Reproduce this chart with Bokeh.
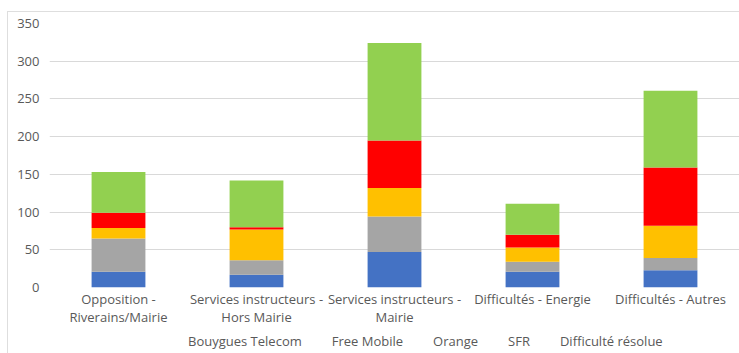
from bokeh.plotting import figure
from bokeh.layouts import column
from bokeh.models import ColumnDataSource, Legend, LegendItem, FixedTicker
from bokeh.embed import file_html
from bokeh.resources import INLINE

categories = ["Opposition -\nRiverains/Mairie", "Services instructeurs -\nHors Mairie",
              "Services instructeurs -\nMairie", "Difficultés - Energie", "Difficultés - Autres"]
series = ["Bouygues Telecom", "Free Mobile", "Orange", "SFR", "Difficulté résolue"]
bouygues = [21, 17, 47, 21, 23]
free = [44, 19, 47, 13, 16]
orange = [14, 41, 38, 19, 43]
sfr = [20, 3, 63, 17, 77]
resolue = [54, 62, 129, 41, 102]
colors = ["#4472C4", "#A5A5A5", "#FFC000", "#FF0000", "#92D050"]
y_ticks = [0, 50, 100, 150, 200, 250, 300, 350]

FONT = "Open Sans"
TXT = "#595959"

source = ColumnDataSource(data=dict(cat=categories, b=bouygues, f=free, o=orange, s=sfr, r=resolue))

p = figure(x_range=categories, y_range=(0, 350), width=732, height=318,
           output_backend="svg", toolbar_location=None,
           min_border_left=41, min_border_right=1, min_border_top=11, min_border_bottom=43)

renderers = p.vbar_stack(["b", "f", "o", "s", "r"], x="cat", width=0.39, color=colors,
                         source=source, line_color=None)

p.outline_line_color = None
p.xgrid.grid_line_color = None
p.ygrid.grid_line_color = "#d9d9d9"
p.ygrid.grid_line_width = 1
p.yaxis.ticker = FixedTicker(ticks=y_ticks)
for ax in (p.xaxis, p.yaxis):
    ax.axis_line_color = None
    ax.major_tick_line_color = None
    ax.minor_tick_line_color = None
    ax.major_tick_out = 0
    ax.major_label_text_font = FONT
    ax.major_label_text_font_size = "13px"
    ax.major_label_text_color = TXT
p.yaxis.major_label_standoff = 10
p.xaxis.major_label_standoff = 2
p.xaxis.major_label_text_line_height = 1.05
p.x_range.range_padding = 0

# Legend strip: a second figure holding only the legend
lp = figure(width=732, height=23, x_range=(0, 1), y_range=(0, 1),
            output_backend="svg", toolbar_location=None,
            x_axis_location=None, y_axis_location=None,
            min_border_left=0, min_border_right=0, min_border_top=0, min_border_bottom=0)
lp.outline_line_color = None
lp.xgrid.grid_line_color = None
lp.ygrid.grid_line_color = None
leg_renderers = [lp.vbar(x=[], top=[], width=0.1, color=c, line_color=None) for c in colors]
legend = Legend(items=[LegendItem(label=n, renderers=[r]) for n, r in zip(series, leg_renderers)],
                orientation="horizontal", location=(127, 3),
                label_text_font=FONT, label_text_font_size="13px", label_text_color=TXT,
                glyph_width=8, glyph_height=8, label_standoff=4, spacing=18, label_height=16,
                padding=0, margin=0, border_line_color=None, background_fill_alpha=0)
lp.add_layout(legend)

layout = column(p, lp, spacing=0)
layout.margin = (11, 0, 0, 7)
layout.styles = {"border-top": "1px solid #dedede", "border-left": "1px solid #dedede"}

open("out.html", "w").write(file_html(layout, INLINE))
